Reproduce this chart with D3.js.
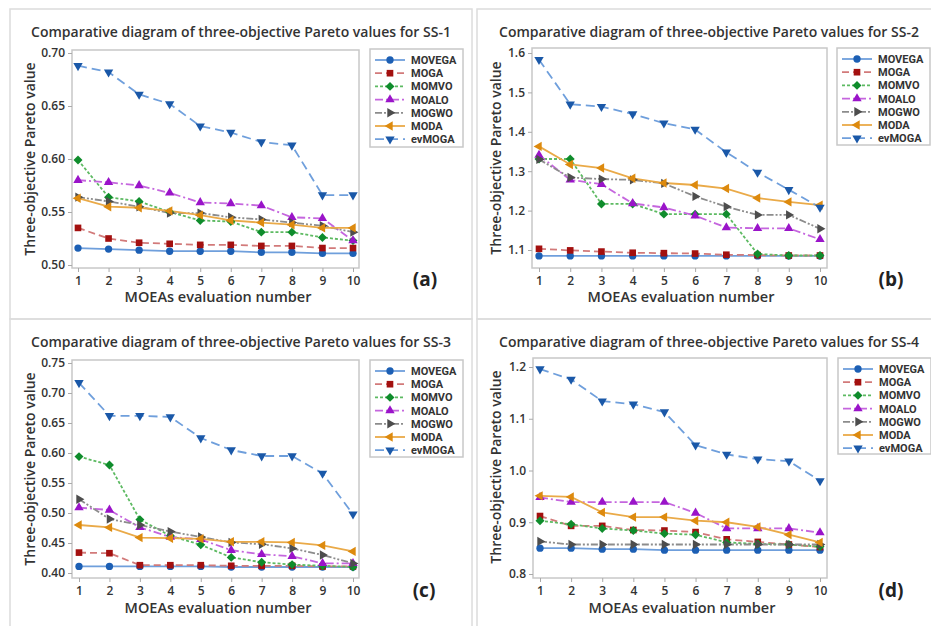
<!DOCTYPE html>
<html><head><meta charset="utf-8">
<script src="https://cdn.jsdelivr.net/npm/d3@7"></script>
<style>
html,body{margin:0;padding:0;background:#fff;}
svg{display:block;font-family:"Open Sans","Noto Sans",sans-serif;}
</style></head>
<body><svg id="c" width="931" height="626"></svg>
<script>
// ---------- DATA ----------
const evalNumbers = [1,2,3,4,5,6,7,8,9,10];
const seriesNames = ["MOVEGA","MOGA","MOMVO","MOALO","MOGWO","MODA","evMOGA"];

// SS-1
const ss1MOVEGA = [0.516,0.515,0.514,0.513,0.513,0.513,0.512,0.512,0.511,0.511];
const ss1MOGA   = [0.535,0.525,0.521,0.520,0.519,0.519,0.518,0.518,0.516,0.516];
const ss1MOMVO  = [0.599,0.564,0.560,0.550,0.542,0.541,0.531,0.531,0.526,0.523];
const ss1MOALO  = [0.580,0.578,0.575,0.568,0.559,0.558,0.556,0.545,0.544,0.523];
const ss1MOGWO  = [0.564,0.560,0.555,0.549,0.549,0.545,0.543,0.540,0.537,0.531];
const ss1MODA   = [0.563,0.555,0.554,0.551,0.547,0.542,0.540,0.538,0.535,0.535];
const ss1evMOGA = [0.688,0.682,0.661,0.652,0.631,0.625,0.616,0.613,0.566,0.566];

// SS-2
const ss2MOVEGA = [1.085,1.085,1.085,1.085,1.085,1.085,1.085,1.085,1.085,1.085];
const ss2MOGA   = [1.103,1.099,1.096,1.093,1.092,1.091,1.088,1.087,1.086,1.086];
const ss2MOMVO  = [1.331,1.331,1.217,1.217,1.191,1.191,1.191,1.090,1.086,1.086];
const ss2MOALO  = [1.341,1.278,1.267,1.218,1.208,1.187,1.157,1.155,1.155,1.127];
const ss2MOGWO  = [1.330,1.284,1.280,1.278,1.269,1.236,1.210,1.189,1.189,1.154];
const ss2MODA   = [1.363,1.317,1.308,1.282,1.270,1.265,1.256,1.232,1.222,1.214];
const ss2evMOGA = [1.583,1.470,1.464,1.445,1.422,1.406,1.348,1.297,1.253,1.208];

// SS-3
const ss3MOVEGA = [0.411,0.411,0.411,0.411,0.411,0.410,0.410,0.410,0.410,0.410];
const ss3MOGA   = [0.434,0.433,0.413,0.413,0.413,0.412,0.412,0.412,0.411,0.411];
const ss3MOMVO  = [0.594,0.580,0.489,0.462,0.447,0.426,0.418,0.414,0.412,0.410];
const ss3MOALO  = [0.509,0.505,0.476,0.460,0.456,0.438,0.431,0.428,0.416,0.416];
const ss3MOGWO  = [0.523,0.490,0.480,0.469,0.460,0.451,0.448,0.441,0.430,0.416];
const ss3MODA   = [0.480,0.476,0.459,0.458,0.457,0.452,0.452,0.451,0.446,0.436];
const ss3evMOGA = [0.717,0.662,0.662,0.660,0.625,0.605,0.595,0.595,0.566,0.498];

// SS-4
const ss4MOVEGA = [0.850,0.850,0.848,0.848,0.846,0.846,0.846,0.846,0.846,0.846];
const ss4MOGA   = [0.912,0.893,0.893,0.885,0.884,0.881,0.867,0.862,0.857,0.852];
const ss4MOMVO  = [0.903,0.896,0.888,0.884,0.878,0.876,0.861,0.858,0.857,0.853];
const ss4MOALO  = [0.948,0.939,0.939,0.939,0.939,0.918,0.888,0.888,0.888,0.880];
const ss4MOGWO  = [0.863,0.857,0.857,0.857,0.857,0.857,0.857,0.857,0.857,0.857];
const ss4MODA   = [0.951,0.949,0.919,0.910,0.910,0.903,0.900,0.891,0.876,0.861];
const ss4evMOGA = [1.196,1.176,1.134,1.128,1.113,1.049,1.031,1.022,1.018,0.980];

const ss1Ticks = [0.50,0.55,0.60,0.65,0.70];
const ss2Ticks = [1.1,1.2,1.3,1.4,1.5,1.6];
const ss3Ticks = [0.40,0.45,0.50,0.55,0.60,0.65,0.70,0.75];
const ss4Ticks = [0.8,0.9,1.0,1.1,1.2];

const panelTitles = ["Comparative diagram of three-objective Pareto values for SS-1",
  "Comparative diagram of three-objective Pareto values for SS-2",
  "Comparative diagram of three-objective Pareto values for SS-3",
  "Comparative diagram of three-objective Pareto values for SS-4"];
const panelTags = ["(a)","(b)","(c)","(d)"];
const yAxisLabel = "Three-objective Pareto value";
const xAxisLabel = "MOEAs evaluation number";

// ---------- STYLE ----------
const styles = {
  MOVEGA:{line:"#6f9fdc",mark:"#1c5fb4",dash:null,sym:d3.symbolCircle,size:42,rot:0},
  MOGA:{line:"#d27a7a",mark:"#a3100f",dash:"7,4",sym:d3.symbolSquare,size:44,rot:0},
  MOMVO:{line:"#5dba62",mark:"#0f8c2c",dash:"3,2",sym:d3.symbolSquare,size:40,rot:45},
  MOALO:{line:"#c566de",mark:"#9a14c9",dash:"8,3,2,3",sym:d3.symbolTriangle,size:38,rot:0},
  MOGWO:{line:"#8c8c8c",mark:"#4d4d4d",dash:"7,2,2,2,2,2",sym:d3.symbolTriangle,size:38,rot:90},
  MODA:{line:"#eaaa48",mark:"#dd8a0e",dash:null,sym:d3.symbolTriangle,size:38,rot:-90},
  evMOGA:{line:"#6f9fdc",mark:"#1a58a8",dash:"9,5",sym:d3.symbolTriangle,size:38,rot:180}
};
function symPath(st){ return d3.symbol().type(st.sym).size(st.size)(); }

const panels = [
  {data:[ss1MOVEGA,ss1MOGA,ss1MOMVO,ss1MOALO,ss1MOGWO,ss1MODA,ss1evMOGA], ticks:ss1Ticks, fmt:".2f",
   box:[10,9,472,319], frame:[72,50,359,268], xr:[78,353], ydom:[0.50,0.70], yr:[265,53],
   title:[241,37], ylab:[31,159], xlab:[218,302], tag:[425,286], leg:[370,49,463,147]},
  {data:[ss2MOVEGA,ss2MOGA,ss2MOMVO,ss2MOALO,ss2MOGWO,ss2MODA,ss2evMOGA], ticks:ss2Ticks, fmt:".1f",
   box:[477,9,940,319], frame:[532,48,827,268], xr:[539,820], ydom:[1.1,1.6], yr:[250,53],
   title:[709,37], ylab:[497,158], xlab:[681,302], tag:[891,286], leg:[837,48,930,145]},
  {data:[ss3MOVEGA,ss3MOGA,ss3MOMVO,ss3MOALO,ss3MOGWO,ss3MODA,ss3evMOGA], ticks:ss3Ticks, fmt:".2f",
   box:[10,319,472,640], frame:[72,360,359,578], xr:[79,353], ydom:[0.40,0.75], yr:[573,363],
   title:[241,347], ylab:[31,469], xlab:[218,613], tag:[424,597], leg:[370,360,463,457]},
  {data:[ss4MOVEGA,ss4MOGA,ss4MOMVO,ss4MOALO,ss4MOGWO,ss4MODA,ss4evMOGA], ticks:ss4Ticks, fmt:".1f",
   box:[477,319,940,640], frame:[533,358,827,578], xr:[540,820], ydom:[0.8,1.2], yr:[574,367],
   title:[709,347], ylab:[497,467], xlab:[682,613], tag:[891,597], leg:[838,358,931,454]}
];

const svg = d3.select("#c");
const textCol = "#333";

panels.forEach((p,pi)=>{
  const g = svg.append("g");
  g.append("rect").attr("x",p.box[0]).attr("y",p.box[1])
    .attr("width",p.box[2]-p.box[0]).attr("height",p.box[3]-p.box[1])
    .attr("fill","none").attr("stroke","#dcdcdc").attr("stroke-width",1.5);

  const x = d3.scaleLinear().domain([1,10]).range(p.xr);
  const y = d3.scaleLinear().domain(p.ydom).range(p.yr);

  g.append("rect").attr("x",p.frame[0]).attr("y",p.frame[1])
    .attr("width",p.frame[2]-p.frame[0]).attr("height",p.frame[3]-p.frame[1])
    .attr("fill","#fff").attr("stroke","#c8c8c8").attr("stroke-width",1.5);

  const yAxis = d3.axisLeft(y).tickValues(p.ticks).tickFormat(d3.format(p.fmt)).tickSize(4).tickPadding(3);
  const ya = g.append("g").attr("transform",`translate(${p.frame[0]},0)`).call(yAxis);
  const xAxis = d3.axisBottom(x).tickValues(evalNumbers).tickFormat(d3.format("d")).tickSize(4).tickPadding(4);
  const xa = g.append("g").attr("transform",`translate(0,${p.frame[3]})`).call(xAxis);
  [ya,xa].forEach(a=>{
    a.select(".domain").remove();
    a.selectAll(".tick line").attr("stroke","#aaa");
    a.selectAll(".tick text").attr("fill",textCol).style("font-size","12px").style("font-weight","600")
      .style("font-family","'Open Sans',sans-serif");
  });

  p.data.forEach((vals,si)=>{
    const st = styles[seriesNames[si]];
    const line = d3.line().x((d,i)=>x(evalNumbers[i])).y(d=>y(d));
    g.append("path").datum(vals).attr("d",line).attr("fill","none")
      .attr("stroke",st.line).attr("stroke-width",1.8)
      .attr("stroke-dasharray",st.dash);
  });
  p.data.forEach((vals,si)=>{
    const st = styles[seriesNames[si]];
    g.append("g").selectAll("path").data(vals).join("path")
      .attr("d",symPath(st))
      .attr("transform",(d,i)=>`translate(${x(evalNumbers[i])},${y(d)}) rotate(${st.rot})`)
      .attr("fill",st.mark);
  });

  g.append("text").attr("x",p.title[0]).attr("y",p.title[1]).attr("text-anchor","middle")
    .attr("fill",textCol).style("font-size","14px").style("font-weight","600").text(panelTitles[pi]);
  g.append("text").attr("transform",`translate(${p.ylab[0]+4},${p.ylab[1]}) rotate(-90)`)
    .attr("text-anchor","middle").attr("fill",textCol).style("font-size","14px").style("font-weight","600")
    .text(yAxisLabel);
  g.append("text").attr("x",p.xlab[0]).attr("y",p.xlab[1]).attr("text-anchor","middle")
    .attr("fill",textCol).style("font-size","14.5px").style("font-weight","600").text(xAxisLabel);
  g.append("text").attr("x",p.tag[0]).attr("y",p.tag[1]).attr("text-anchor","middle")
    .attr("fill","#222").style("font-size","19px").style("font-weight","700").text(panelTags[pi]);

  const L = p.leg;
  g.append("rect").attr("x",L[0]).attr("y",L[1]).attr("width",L[2]-L[0]).attr("height",L[3]-L[1])
    .attr("fill","#fff").attr("stroke","#c8c8c8").attr("stroke-width",1.5);
  seriesNames.forEach((name,si)=>{
    const st = styles[name];
    const yy = L[1]+11+si*13.2;
    g.append("line").attr("x1",L[0]+5).attr("x2",L[0]+35).attr("y1",yy).attr("y2",yy)
      .attr("stroke",st.line).attr("stroke-width",1.8).attr("stroke-dasharray",st.dash);
    g.append("path").attr("d",symPath(st))
      .attr("transform",`translate(${L[0]+20},${yy}) rotate(${st.rot})`).attr("fill",st.mark);
    g.append("text").attr("x",L[0]+41).attr("y",yy+4).attr("fill",textCol)
      .style("font-family","Roboto,sans-serif")
      .style("font-size","11px").style("font-weight","700").text(name);
  });
});
</script>
</body></html>
